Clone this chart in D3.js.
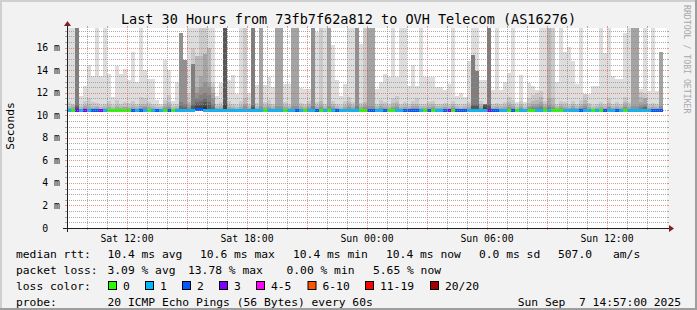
<!DOCTYPE html>
<html><head><meta charset="utf-8">
<script src="https://cdn.jsdelivr.net/npm/d3@7"></script>
<style>
html,body{margin:0;padding:0;background:#f2f2f2;}
svg{display:block;}
text{font-family:"DejaVu Sans Mono",monospace;white-space:pre;}
</style></head><body>
<svg id="chart" width="697" height="310"></svg>
<script>
// ---------------- data ----------------
const titleText = "Last 30 Hours from 73fb7f62a812 to OVH Telecom (AS16276)";
const startTime = new Date(2025, 8, 6, 9, 0);
const endTime = new Date(2025, 8, 7, 15, 0);
const stepMinutes = 12;
const xTickTimes = [new Date(2025,8,6,12,0), new Date(2025,8,6,18,0), new Date(2025,8,7,0,0), new Date(2025,8,7,6,0), new Date(2025,8,7,12,0)];
const xTickLabels = ["Sat 12:00", "Sat 18:00", "Sun 00:00", "Sun 06:00", "Sun 12:00"];
const yTickValues = [0, 2, 4, 6, 8, 10, 12, 14, 16];
const yTickLabels = ["0  ", "2 m", "4 m", "6 m", "8 m", "10 m", "12 m", "14 m", "16 m"];

// upper edge of each smoke band (ms), outermost (1) to innermost (10)
const smoke1 = [18,18,18,11.74,12.6,14.5,13.5,18,13.5,18,
 13.7,11.6,14.35,13.7,14.1,13.1,15.6,13.0,18,14.0,
 13.2,13.2,11.35,11.0,14.9,14.0,11.3,13.0,17.3,14.9,
 18,18,18,18,18,18,18,11.74,12.9,18,
 13.1,13.6,11.9,18,18,12.0,18,12.7,18,12.7,
 13.4,12.5,18,18,12.8,12.8,18,18,12.4,12.3,
 12.3,18,17.4,18,18,18,16.2,13.1,11.74,12.8,
 18,18,18,16.3,18,18,18,12.3,13.0,13.66,
 13.36,18,13.4,18,18,12.6,14.5,12.6,18,13.4,
 13.4,13.4,12.5,12.5,12.25,12.8,18,11.74,12.0,11.65,
 14.85,18,18,13.1,13.1,18,12.25,18,12.25,13.0,
 13.75,18,11.14,13.6,11.14,12.84,12.6,12.25,18,18,
 18,18,13.0,18,15.6,16.05,14.85,12.8,18,11.9,
 11.9,12.6,12.6,18,15.5,18,13.5,13.2,13.2,17.35,
 18,18,18,12.3,18,12.2,18,12.2,15.6];
const smoke2 = [11.2,11.0,18,10.9,11.3,11.5,11.2,11.1,10.9,11.0,
 11.3,10.9,11.4,11.0,11.2,11.1,11.3,11.0,11.6,11.5,
 11.2,11.0,10.9,10.8,11.4,11.8,10.9,11.0,17.3,14.9,
 12.0,16.0,15.3,18,18,16.0,12.9,11.0,11.2,18,
 11.3,11.0,10.9,11.3,18,11.0,18,11.1,18,11.2,
 11.4,11.0,18,18,11.2,11.0,18,18,11.1,11.0,
 11.3,18,11.2,18,11.0,18,11.3,11.0,10.9,11.3,
 11.6,11.2,18,11.1,18,18,18,11.0,11.4,11.2,
 11.0,11.5,11.7,11.0,11.2,11.0,11.3,11.5,11.0,11.0,
 11.2,11.3,11.0,11.0,11.1,11.0,11.3,11.0,10.9,11.0,
 11.2,15.35,13.96,11.3,11.0,18,11.0,11.1,11.0,11.2,
 11.6,11.4,10.9,11.3,10.9,11.5,11.8,12.0,12.2,11.3,
 18,18,11.0,11.3,11.2,11.0,11.3,11.0,11.4,11.9,
 11.1,10.9,11.0,11.2,11.0,11.5,11.0,11.2,11.0,11.6,
 11.2,18,18,12.1,12.0,11.0,11.1,11.0,15.6];
const smoke3 = [10.8,10.9,18,10.7,10.9,11.0,10.8,10.8,10.7,10.8,
 10.9,10.7,10.9,10.8,10.8,10.8,10.9,10.8,11.0,11.0,
 10.9,10.8,10.7,10.7,11.0,11.2,10.7,10.8,17.3,14.9,
 11.2,14.55,15.3,15.3,15.4,16.0,12.5,10.8,10.9,18,
 10.9,10.8,10.7,10.9,11.5,10.8,18,10.8,18,10.9,
 11.0,10.8,18,18,10.9,10.8,18,18,10.9,10.8,
 11.0,18,10.9,11.3,10.8,18,11.0,10.8,10.7,10.9,
 11.2,10.9,18,10.9,11.2,18,18,10.8,11.0,10.9,
 10.8,11.1,11.2,10.8,10.9,10.8,11.0,11.0,10.8,10.8,
 10.9,11.0,10.8,10.8,10.9,10.8,11.0,10.8,10.7,10.8,
 10.9,15.35,13.96,11.0,11.0,18,10.8,10.9,10.8,10.9,
 11.2,11.0,10.7,11.0,10.7,11.1,11.3,11.4,11.6,11.0,
 18,11.5,10.8,11.0,10.9,10.8,11.0,10.8,11.0,11.4,
 10.9,10.7,10.8,10.9,10.8,11.1,10.8,10.9,10.8,11.2,
 10.9,18,18,11.6,11.5,10.8,10.9,10.8,15.6];
const smoke4 = [10.65,10.7,18,10.6,10.8,10.75,10.65,10.7,10.6,10.65,
 10.7,10.6,10.7,10.65,10.7,10.65,10.7,10.65,10.8,10.85,
 10.75,10.65,10.6,10.6,10.8,10.9,10.6,10.65,17.3,14.9,
 10.9,14.55,12.5,13.5,15.4,13.0,12.0,10.65,10.7,18,
 10.7,10.65,10.6,10.7,11.0,10.65,18,10.65,18,10.7,
 10.8,10.65,18,18,10.7,10.65,18,18,10.7,10.65,
 10.8,18,10.7,10.9,10.65,18,10.8,10.65,10.6,10.7,
 10.9,10.7,18,10.7,10.9,18,18,10.65,10.8,10.7,
 10.65,10.8,10.9,10.65,10.7,10.65,10.8,10.8,10.65,10.65,
 10.7,10.8,10.65,10.65,10.7,10.65,10.8,10.65,10.6,10.65,
 10.7,15.35,13.96,10.8,11.0,18,10.65,10.7,10.65,10.7,
 10.9,10.8,10.6,10.8,10.6,10.85,11.0,11.0,11.2,10.8,
 11.5,10.9,10.65,10.8,10.7,10.65,10.8,10.65,10.8,11.0,
 10.7,10.6,10.65,10.7,10.65,10.85,10.65,10.7,10.65,10.9,
 10.7,18,18,11.2,11.5,10.65,10.7,10.65,15.6];
const smoke5 = [10.55,10.6,18,10.55,10.65,10.6,10.55,10.6,10.55,10.55,
 10.6,10.55,10.6,10.55,10.6,10.55,10.6,10.55,10.65,10.7,
 10.6,10.55,10.55,10.55,10.65,10.7,10.55,10.55,17.3,14.9,
 10.7,14.55,12.0,12.5,13.0,12.5,11.5,10.55,10.6,18,
 10.6,10.55,10.55,10.6,10.8,10.55,18,10.55,10.8,10.6,
 10.65,10.55,10.8,10.8,10.6,10.55,10.8,10.8,10.6,10.55,
 10.65,18,10.6,10.7,10.55,10.8,10.65,10.55,10.55,10.6,
 10.7,10.6,18,10.6,10.7,10.8,10.8,10.55,10.65,10.6,
 10.55,10.65,10.7,10.55,10.6,10.55,10.65,10.65,10.55,10.55,
 10.6,10.65,10.55,10.55,10.6,10.55,10.65,10.55,10.55,10.55,
 10.6,15.35,13.96,10.65,11.0,18,10.55,10.6,10.55,10.6,
 10.7,10.65,10.55,10.65,10.55,10.7,10.8,10.8,10.9,10.65,
 10.9,10.7,10.55,10.65,10.6,10.55,10.65,10.55,10.65,10.8,
 10.6,10.55,10.55,10.6,10.55,10.7,10.55,10.6,10.55,10.7,
 10.6,10.8,10.8,10.9,11.0,10.55,10.6,10.55,10.8];
const smoke6 = [10.5,10.55,18,10.5,10.55,10.5,10.5,10.5,10.5,10.5,
 10.5,10.5,10.5,10.5,10.5,10.5,10.5,10.5,10.6,10.6,
 10.5,10.5,10.5,10.5,10.55,10.6,10.5,10.5,11.2,11.0,
 10.6,14.55,11.5,11.8,12.0,11.8,11.0,10.5,10.5,18,
 10.5,10.5,10.5,10.5,10.6,10.5,18,10.5,10.6,10.5,
 10.55,10.5,10.6,10.6,10.5,10.5,10.6,10.6,10.5,10.5,
 10.55,10.8,10.5,10.6,10.5,10.6,10.55,10.5,10.5,10.5,
 10.6,10.5,10.8,10.5,10.6,10.6,10.6,10.5,10.55,10.5,
 10.5,10.55,10.6,10.5,10.5,10.5,10.55,10.55,10.5,10.5,
 10.5,10.55,10.5,10.5,10.5,10.5,10.55,10.5,10.5,10.5,
 10.5,15.35,13.96,10.55,11.0,18,10.5,10.5,10.5,10.5,
 10.6,10.55,10.5,10.55,10.5,10.6,10.65,10.65,10.7,10.55,
 10.7,10.6,10.5,10.55,10.5,10.5,10.55,10.5,10.55,10.65,
 10.5,10.5,10.5,10.5,10.5,10.6,10.5,10.5,10.5,10.6,
 10.5,10.6,10.6,10.7,10.8,10.5,10.5,10.5,10.6];
const smoke7 = [10.48,10.5,10.9,10.48,10.5,10.48,10.48,10.48,10.48,10.48,
 10.48,10.48,10.48,10.48,10.48,10.48,10.48,10.48,10.55,10.55,
 10.48,10.48,10.48,10.48,10.5,10.55,10.48,10.48,10.8,10.7,
 10.55,11.0,11.2,11.3,11.5,11.2,10.7,10.48,10.48,18,
 10.48,10.48,10.48,10.48,10.55,10.48,10.9,10.48,10.55,10.48,
 10.5,10.48,10.55,10.55,10.48,10.48,10.55,10.55,10.48,10.48,
 10.5,10.6,10.48,10.55,10.48,10.55,10.5,10.48,10.48,10.48,
 10.55,10.48,10.6,10.48,10.55,10.55,10.55,10.48,10.5,10.48,
 10.48,10.5,10.55,10.48,10.48,10.48,10.5,10.5,10.48,10.48,
 10.48,10.5,10.48,10.48,10.48,10.48,10.5,10.48,10.48,10.48,
 10.48,11.0,11.0,10.5,11.0,11.0,10.48,10.48,10.48,10.48,
 10.55,10.5,10.48,10.5,10.48,10.55,10.6,10.6,10.6,10.5,
 10.6,10.55,10.48,10.5,10.48,10.48,10.5,10.48,10.5,10.6,
 10.48,10.48,10.48,10.48,10.48,10.55,10.48,10.48,10.48,10.55,
 10.48,10.55,10.55,10.6,10.7,10.48,10.48,10.48,10.55];
const smoke8 = [10.45,10.45,10.7,10.45,10.45,10.45,10.45,10.45,10.45,10.45,
 10.45,10.45,10.45,10.45,10.45,10.45,10.45,10.45,10.45,10.45,
 10.45,10.45,10.45,10.45,10.45,10.45,10.45,10.45,10.6,10.6,
 10.45,10.8,11.0,11.0,11.2,10.9,10.6,10.45,10.45,18,
 10.45,10.45,10.45,10.45,10.45,10.45,10.7,10.45,10.45,10.45,
 10.45,10.45,10.45,10.45,10.45,10.45,10.45,10.45,10.45,10.45,
 10.45,10.5,10.45,10.45,10.45,10.45,10.45,10.45,10.45,10.45,
 10.45,10.45,10.5,10.45,10.45,10.45,10.45,10.45,10.45,10.45,
 10.45,10.45,10.45,10.45,10.45,10.45,10.45,10.45,10.45,10.45,
 10.45,10.45,10.45,10.45,10.45,10.45,10.45,10.45,10.45,10.45,
 10.45,10.8,10.8,10.45,10.9,10.8,10.45,10.45,10.45,10.45,
 10.45,10.45,10.45,10.45,10.45,10.45,10.45,10.45,10.45,10.45,
 10.45,10.45,10.45,10.45,10.45,10.45,10.45,10.45,10.45,10.45,
 10.45,10.45,10.45,10.45,10.45,10.45,10.45,10.45,10.45,10.45,
 10.45,10.45,10.45,10.45,10.45,10.45,10.45,10.45,10.45];
const smoke9 = [10.42,10.42,10.6,10.42,10.42,10.42,10.42,10.42,10.42,10.42,
 10.42,10.42,10.42,10.42,10.42,10.42,10.42,10.42,10.42,10.42,
 10.42,10.42,10.42,10.42,10.42,10.42,10.42,10.42,10.42,10.42,
 10.42,10.6,10.8,10.8,10.9,10.6,10.42,10.42,10.42,11.0,
 10.42,10.42,10.42,10.42,10.42,10.42,10.55,10.42,10.42,10.42,
 10.42,10.42,10.42,10.42,10.42,10.42,10.42,10.42,10.42,10.42,
 10.42,10.42,10.42,10.42,10.42,10.42,10.42,10.42,10.42,10.42,
 10.42,10.42,10.42,10.42,10.42,10.42,10.42,10.42,10.42,10.42,
 10.42,10.42,10.42,10.42,10.42,10.42,10.42,10.42,10.42,10.42,
 10.42,10.42,10.42,10.42,10.42,10.42,10.42,10.42,10.42,10.42,
 10.42,10.42,10.42,10.42,10.7,10.6,10.42,10.42,10.42,10.42,
 10.42,10.42,10.42,10.42,10.42,10.42,10.42,10.42,10.42,10.42,
 10.42,10.42,10.42,10.42,10.42,10.42,10.42,10.42,10.42,10.42,
 10.42,10.42,10.42,10.42,10.42,10.42,10.42,10.42,10.42,10.42,
 10.42,10.42,10.42,10.42,10.42,10.42,10.42,10.42,10.42];
const smoke10 = [10.4,10.4,10.5,10.4,10.4,10.4,10.4,10.4,10.4,10.4,
 10.4,10.4,10.4,10.4,10.4,10.4,10.4,10.4,10.4,10.4,
 10.4,10.4,10.4,10.4,10.4,10.4,10.4,10.4,10.4,10.4,
 10.4,10.4,10.55,10.6,10.7,10.4,10.4,10.4,10.4,10.6,
 10.4,10.4,10.4,10.4,10.4,10.4,10.4,10.4,10.4,10.4,
 10.4,10.4,10.4,10.4,10.4,10.4,10.4,10.4,10.4,10.4,
 10.4,10.4,10.4,10.4,10.4,10.4,10.4,10.4,10.4,10.4,
 10.4,10.4,10.4,10.4,10.4,10.4,10.4,10.4,10.4,10.4,
 10.4,10.4,10.4,10.4,10.4,10.4,10.4,10.4,10.4,10.4,
 10.4,10.4,10.4,10.4,10.4,10.4,10.4,10.4,10.4,10.4,
 10.4,10.4,10.4,10.4,10.5,10.4,10.4,10.4,10.4,10.4,
 10.4,10.4,10.4,10.4,10.4,10.4,10.4,10.4,10.4,10.4,
 10.4,10.4,10.4,10.4,10.4,10.4,10.4,10.4,10.4,10.4,
 10.4,10.4,10.4,10.4,10.4,10.4,10.4,10.4,10.4,10.4,
 10.4,10.4,10.4,10.4,10.4,10.4,10.4,10.4,10.4];
const smokeMin = [10.36,10.37,10.36,10.36,10.37,10.36,10.36,10.36,10.37,10.36,
 10.36,10.36,10.37,10.36,10.36,10.36,10.36,10.37,10.36,10.36,
 10.36,10.37,10.36,10.36,10.36,10.36,10.37,10.36,10.36,10.36,
 10.36,10.36,10.37,10.36,10.36,10.36,10.36,10.36,10.37,10.36,
 10.36,10.36,10.36,10.37,10.36,10.36,10.36,10.36,10.36,10.37,
 10.36,10.36,10.36,10.36,10.37,10.36,10.36,10.36,10.36,10.36,
 10.37,10.36,10.36,10.36,10.36,10.36,10.37,10.36,10.36,10.36,
 10.36,10.36,10.37,10.36,10.36,10.36,10.36,10.36,10.37,10.36,
 10.36,10.36,10.36,10.37,10.36,10.36,10.36,10.36,10.36,10.37,
 10.36,10.36,10.36,10.36,10.37,10.36,10.36,10.36,10.36,10.36,
 10.37,10.36,10.36,10.36,10.36,10.36,10.37,10.36,10.36,10.36,
 10.36,10.36,10.37,10.36,10.36,10.36,10.36,10.36,10.37,10.36,
 10.36,10.36,10.36,10.37,10.36,10.36,10.36,10.36,10.36,10.37,
 10.36,10.36,10.36,10.36,10.37,10.36,10.36,10.36,10.36,10.36,
 10.37,10.36,10.36,10.36,10.36,10.36,10.37,10.36,10.36];
const medianRtt = [10.45,10.45,10.46,10.45,10.46,10.45,10.45,10.45,10.46,10.45,
 10.45,10.45,10.45,10.45,10.45,10.45,10.45,10.45,10.46,10.45,
 10.45,10.45,10.45,10.45,10.45,10.46,10.45,10.45,10.45,10.45,
 10.45,10.46,10.55,10.58,10.5,10.46,10.45,10.45,10.45,10.46,
 10.45,10.45,10.45,10.45,10.45,10.45,10.46,10.45,10.45,10.45,
 10.45,10.45,10.45,10.45,10.45,10.45,10.45,10.45,10.45,10.45,
 10.45,10.45,10.45,10.45,10.45,10.45,10.45,10.45,10.45,10.45,
 10.45,10.45,10.45,10.45,10.45,10.45,10.45,10.45,10.45,10.45,
 10.45,10.45,10.45,10.45,10.45,10.45,10.45,10.45,10.45,10.45,
 10.45,10.45,10.45,10.45,10.45,10.45,10.45,10.45,10.45,10.45,
 10.45,10.45,10.45,10.45,10.46,10.45,10.45,10.45,10.45,10.45,
 10.45,10.45,10.45,10.45,10.45,10.45,10.45,10.45,10.45,10.45,
 10.45,10.45,10.45,10.45,10.45,10.45,10.45,10.45,10.45,10.45,
 10.45,10.45,10.45,10.45,10.45,10.45,10.45,10.45,10.45,10.45,
 10.45,10.45,10.45,10.45,10.45,10.45,10.45,10.45,10.45];
// lost pings per step (index into lossColors)
const lossIndex = [1,0,3,1,3,1,2,2,3,1,
 0,0,0,0,0,0,2,1,2,1,
 0,1,2,1,0,2,0,1,1,1,
 1,1,2,2,1,1,1,1,1,1,
 1,1,1,1,1,1,1,1,1,0,
 1,1,1,1,0,1,1,2,1,0,
 1,1,2,0,1,0,1,2,1,1,
 1,1,1,0,0,2,2,1,1,2,
 0,0,1,1,2,2,2,2,1,0,
 2,0,1,1,2,3,0,2,2,2,
 1,1,1,1,1,3,2,2,1,1,
 0,2,0,1,1,0,0,1,1,0,
 1,0,0,0,1,1,1,1,2,1,
 1,0,1,0,2,1,1,2,1,0,
 1,1,1,1,1,1,2,2,2];
const lossLabels = ["0", "1", "2", "3", "4-5", "6-10", "11-19", "20/20"];
const lossColors = ["#26ff00", "#00b8ff", "#0059ff", "#7e00ff", "#ff00ff", "#ff5500", "#ff0000", "#a10000"];
const rttStats = ["10.4 ms avg", "10.6 ms max", "10.4 ms min", "10.4 ms now", "0.0 ms sd", "507.0", "am/s"];
const lossStats = ["3.09 % avg", "13.78 % max", "0.00 % min", "5.65 % now"];
const probeText = "20 ICMP Echo Pings (56 Bytes) every 60s";
const stampText = "Sun Sep  7 14:57:00 2025";

// ---------------- drawing ----------------
const W = 697, H = 310;
const X0 = 67, X1 = 667, Y0 = 228, Y1 = 28;
const svg = d3.select("#chart");
const x = d3.scaleTime().domain([startTime, endTime]).range([X0, X1]);
const y = d3.scaleLinear().domain([0, 17.75]).range([Y0, Y1]);
const colT = k => new Date(startTime.getTime() + k * stepMinutes * 60000);

// background + 3d border
svg.append("rect").attr("width", W).attr("height", H).attr("fill", "#f2f2f2");
svg.append("path").attr("d", `M0,0H${W}V2H2V${H}H0Z`).attr("fill", "#cfcfcf");
svg.append("path").attr("d", `M${W},0V${H}H0V${H-2}H${W-2}V0Z`).attr("fill", "#9e9e9e");
svg.append("rect").attr("x", X0).attr("y", Y1).attr("width", X1 - X0).attr("height", Y0 - Y1).attr("fill", "#fff");

svg.append("defs").append("clipPath").attr("id", "plotclip")
  .append("rect").attr("x", X0).attr("y", Y1).attr("width", X1 - X0).attr("height", Y0 - Y1);
const plot = svg.append("g").attr("clip-path", "url(#plotclip)").attr("shape-rendering", "crispEdges");

const levels = [smoke1, smoke2, smoke3, smoke4, smoke5, smoke6, smoke7, smoke8, smoke9, smoke10];
levels.forEach((arr, i) => {
  const c = Math.floor(190 / 10 * (10 - (i + 1))) + 50;
  plot.append("g").selectAll("rect").data(arr).join("rect")
    .attr("x", (d, k) => x(colT(k)))
    .attr("width", (d, k) => x(colT(k + 1)) - x(colT(k)))
    .attr("y", d => y(d))
    .attr("height", (d, k) => Math.max(0, y(smokeMin[k]) - y(d)))
    .attr("fill", d3.rgb(c, c, c));
});

// median line coloured by loss
plot.append("g").selectAll("line").data(medianRtt).join("line")
  .attr("x1", (d, k) => x(colT(k)))
  .attr("x2", (d, k) => x(colT(k + 1)))
  .attr("y1", d => Math.round(y(d)) + 0.5)
  .attr("y2", d => Math.round(y(d)) + 0.5)
  .attr("stroke", (d, k) => lossColors[lossIndex[k]])
  .attr("stroke-width", 3);

// grid
const grid = svg.append("g").attr("shape-rendering", "crispEdges");
const minorCol = "rgba(143,143,143,0.75)", majorCol = "rgba(222,79,79,0.6)";
const hours = d3.timeHour.range(d3.timeHour.offset(startTime, 1), endTime);
hours.forEach(t => {
  const major = t.getHours() % 3 === 0;
  const xx = Math.round(x(t)) + 0.5;
  const col = major ? majorCol : minorCol;
  grid.append("line").attr("x1", xx).attr("x2", xx).attr("y1", Y0).attr("y2", Y1)
    .attr("stroke", col).attr("stroke-dasharray", "1,1");
  grid.append("line").attr("x1", xx).attr("x2", xx).attr("y1", Y0).attr("y2", Y0 + 2).attr("stroke", col);
  grid.append("line").attr("x1", xx).attr("x2", xx).attr("y1", Y1 - 2).attr("y2", Y1).attr("stroke", col);
});
const halfSteps = d3.range(1, 36).map(i => i * 0.5);
halfSteps.forEach(v => {
  const major = v % 2 === 0;
  const yy = Math.round(y(v)) + 0.5;
  const col = major ? majorCol : minorCol;
  grid.append("line").attr("x1", X0).attr("x2", X1).attr("y1", yy).attr("y2", yy)
    .attr("stroke", col).attr("stroke-dasharray", "1,1");
  grid.append("line").attr("x1", X0 - 2).attr("x2", X0).attr("y1", yy).attr("y2", yy).attr("stroke", col);
  grid.append("line").attr("x1", X1).attr("x2", X1 + 2).attr("y1", yy).attr("y2", yy).attr("stroke", col);
});

// axes
const axisCol = "#1f1f1f", arrowCol = "#7f1f1f";
svg.append("line").attr("x1", X0 - 4).attr("x2", X1 + 4).attr("y1", Y0 + 0.5).attr("y2", Y0 + 0.5)
  .attr("stroke", axisCol).attr("stroke-width", 1);
svg.append("line").attr("x1", X0 + 0.5).attr("x2", X0 + 0.5).attr("y1", Y0 + 4).attr("y2", Y1 - 4)
  .attr("stroke", axisCol).attr("stroke-width", 1);
svg.append("path").attr("d", `M${X1 + 2},${Y0 - 3}L${X1 + 2},${Y0 + 4}L${X1 + 7},${Y0 + 0.5}Z`).attr("fill", arrowCol);
svg.append("path").attr("d", `M${X0 - 3},${Y1 - 2}L${X0 + 4},${Y1 - 2}L${X0 + 0.5},${Y1 - 7}Z`).attr("fill", arrowCol);

// axis labels
svg.append("g").selectAll("text").data(xTickTimes).join("text")
  .attr("x", d => x(d)).attr("y", 242).attr("text-anchor", "middle")
  .attr("font-size", "9.8px").text((d, i) => xTickLabels[i]);
svg.append("g").selectAll("text").data(yTickValues).join("text")
  .attr("x", 60).attr("y", d => y(d) + 3.5).attr("text-anchor", "end")
  .attr("font-size", "9.8px").text((d, i) => yTickLabels[i]);

// title and unit label
svg.append("text").attr("x", W / 2).attr("y", 24).attr("text-anchor", "middle")
  .attr("font-size", "13.5px").text(titleText);
svg.append("text").attr("transform", "translate(14,126) rotate(-90)").attr("text-anchor", "middle")
  .attr("font-size", "11.3px").text("Seconds");
svg.append("text").attr("transform", "translate(684,5) rotate(90)").attr("text-anchor", "start")
  .attr("font-size", "8.2px").attr("fill", "#a8a8a8").text("RRDTOOL / TOBI OETIKER");

// legend
const lg = svg.append("g").attr("font-size", "11.3px");
const row1 = 258, row2 = 274, row3 = 290, row4 = 306;
lg.append("text").attr("x", 16).attr("y", row1).text("median rtt:");
const rttX = [107.5, 200, 293, 386, 479, 558, 613];
rttStats.forEach((s, i) => lg.append("text").attr("x", rttX[i]).attr("y", row1).text(s));
lg.append("text").attr("x", 16).attr("y", row2).text("packet loss:");
const lossX = [107.5, 188, 286.5, 373];
lossStats.forEach((s, i) => lg.append("text").attr("x", lossX[i]).attr("y", row2).text(s));
lg.append("text").attr("x", 16).attr("y", row3).text("loss color:");
const boxX = [108, 145, 182, 219, 256, 307.5, 365, 430];
lossLabels.forEach((s, i) => {
  lg.append("rect").attr("x", boxX[i] + 0.5).attr("y", row3 - 8.5).attr("width", 8).attr("height", 8)
    .attr("fill", lossColors[i]).attr("stroke", "#000").attr("stroke-width", 1);
  lg.append("text").attr("x", boxX[i] + 15).attr("y", row3).text(s);
});
lg.append("text").attr("x", 16).attr("y", row4).text("probe:");
lg.append("text").attr("x", 107.5).attr("y", row4).text(probeText);
lg.append("text").attr("x", 681).attr("y", row4).attr("text-anchor", "end").text(stampText);
</script>
</body></html>
